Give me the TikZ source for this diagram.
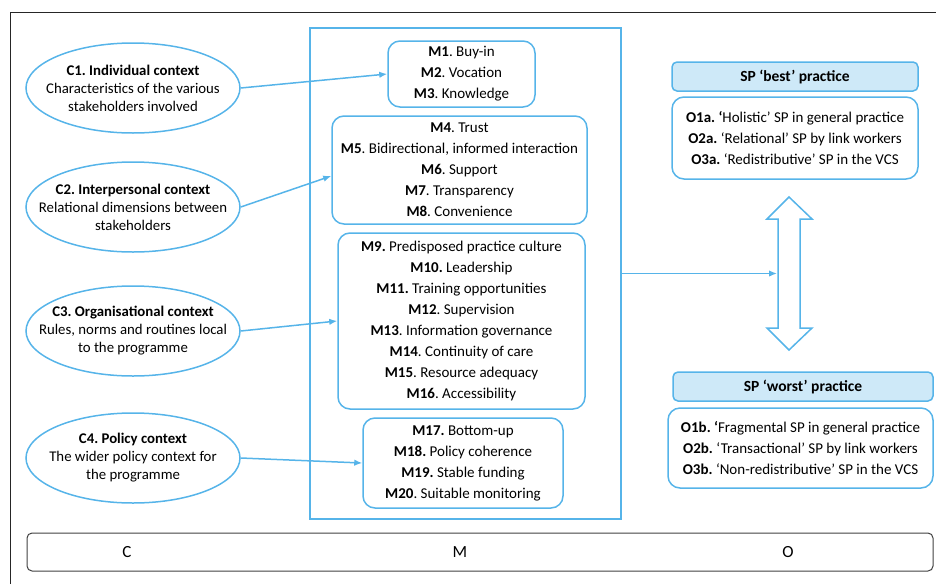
\documentclass[tikz,border=0pt]{standalone}
\usepackage{fontspec}
\setmainfont{Carlito}
\usepackage{tikz}
\usetikzlibrary{arrows.meta,shapes.geometric}
\definecolor{skyline}{RGB}{86,180,233}
\definecolor{skyfill}{RGB}{206,233,248}
\frenchspacing

\begin{document}
\begin{tikzpicture}[x=1pt,y=-1pt,
  ctx/.style={ellipse,draw=skyline,line width=1.5pt,minimum width=214pt,minimum height=90pt,inner xsep=-25pt,inner ysep=0pt,align=center,font=\fontsize{14.8}{18}\selectfont},
  mech/.style={rectangle,rounded corners=12pt,draw=skyline,line width=1.5pt,inner sep=0pt,align=center,font=\fontsize{15}{21}\selectfont},
  outc/.style={mech,rounded corners=12pt},
  outhead/.style={rectangle,rounded corners=5pt,draw=skyline,fill=skyfill,line width=1.5pt,inner sep=0pt,font=\fontsize{15.5}{17}\selectfont\bfseries},
  link/.style={draw=skyline,line width=1.5pt,-{Latex[length=8pt,width=6.5pt]}}]
\useasboundingbox (0,0) rectangle (936,584);
\draw[black!85,line width=1pt] (10,584) -- (10,12) -- (936,12);

% contexts
\draw (133,88) node[ctx] (c1) {\textbf{C1. Individual context}\\Characteristics of the various\\stakeholders involved};
\draw (133,207) node[ctx] (c2) {\textbf{C2. Interpersonal context}\\Relational dimensions between\\stakeholders};
\draw (133,331) node[ctx] (c3) {\textbf{C3. Organisational context}\\Rules, norms and routines local\\to the programme};
\draw (133,458) node[ctx] (c4) {\textbf{C4. Policy context}\\The wider policy context for\\the programme};

% mechanisms
\draw (465.5,273.5) node[draw=skyline,line width=1.5pt,minimum width=311pt,minimum height=491pt] (mframe) {};
\draw (461.5,74) node[mech,minimum width=147pt,minimum height=66pt] (m1) {\textbf{M1}. Buy-in\\\textbf{M2}. Vocation\\\textbf{M3}. Knowledge};
\draw (459.5,170) node[mech,minimum width=255pt,minimum height=108pt] (m2) {\textbf{M4}. Trust\\\textbf{M5}. Bidirectional, informed interaction\\\textbf{M6}. Support\\\textbf{M7}. Transparency\\\textbf{M8}. Convenience};
\draw (461.5,321) node[mech,minimum width=247pt,minimum height=176pt] (m3) {\textbf{M9.} Predisposed practice culture\\\textbf{M10.} Leadership\\\textbf{M11.} Training opportunities\\\textbf{M12}. Supervision\\\textbf{M13}. Information governance\\\textbf{M14}. Continuity of care\\\textbf{M15}. Resource adequacy\\\textbf{M16}. Accessibility};
\draw (463,463) node[mech,minimum width=200pt,minimum height=90pt] (m4) {\textbf{M17.} Bottom-up\\\textbf{M18.} Policy coherence\\\textbf{M19.} Stable funding\\\textbf{M20}. Suitable monitoring};

% outcomes
\draw (795,76.5) node[outhead,minimum width=246pt,minimum height=29pt] (besthead) {SP ‘best’ practice};
\draw (795,138) node[outc,minimum width=246pt,minimum height=82pt] (best) {\textbf{O1a. ‘}Holistic’ SP in general practice\\\textbf{O2a.} ‘Relational’ SP by link workers\\\textbf{O3a.} ‘Redistributive’ SP in the VCS};
\draw (803,386.5) node[outhead,minimum width=260pt,minimum height=29pt] (worsthead) {SP ‘worst’ practice};
\draw (800.5,448) node[outc,minimum width=265pt,minimum height=80pt] (worst) {\textbf{O1b. ‘}Fragmental SP in general practice\\\textbf{O2b.} ‘Transactional’ SP by link workers\\\textbf{O3b.} ‘Non-redistributive’ SP in the VCS};

% best <-> worst
\draw[skyline,line width=1.5pt,fill=white] (789,197) -- (812,219) -- (800,219) -- (800,328) -- (812,328) -- (789,350) -- (767,328) -- (778,328) -- (778,219) -- (767,219) -- cycle;
\coordinate (shaft) at (777,273.5);

% C / M / O bar
\draw (480,552) node[draw=black!75,line width=1pt,rounded corners=5pt,minimum width=906pt,minimum height=38pt] (bar) {};
\draw (127,552) node[font=\fontsize{17}{19}\selectfont] (lc) {C};
\draw (460,552) node[font=\fontsize{17}{19}\selectfont] (lm) {M};
\draw (788,552) node[font=\fontsize{17}{19}\selectfont] (lo) {O};

     \path (c1.east) edge[link] (m1.west);
     \path (c2.east) edge[link] ([yshift=-6pt]m2.west);
     \path (c3.east) edge[link] (m3.west);
     \path (c4.east) edge[link] (m4.west);
     \path (mframe.east) edge[link] (shaft);

\end{tikzpicture}
\end{document}
